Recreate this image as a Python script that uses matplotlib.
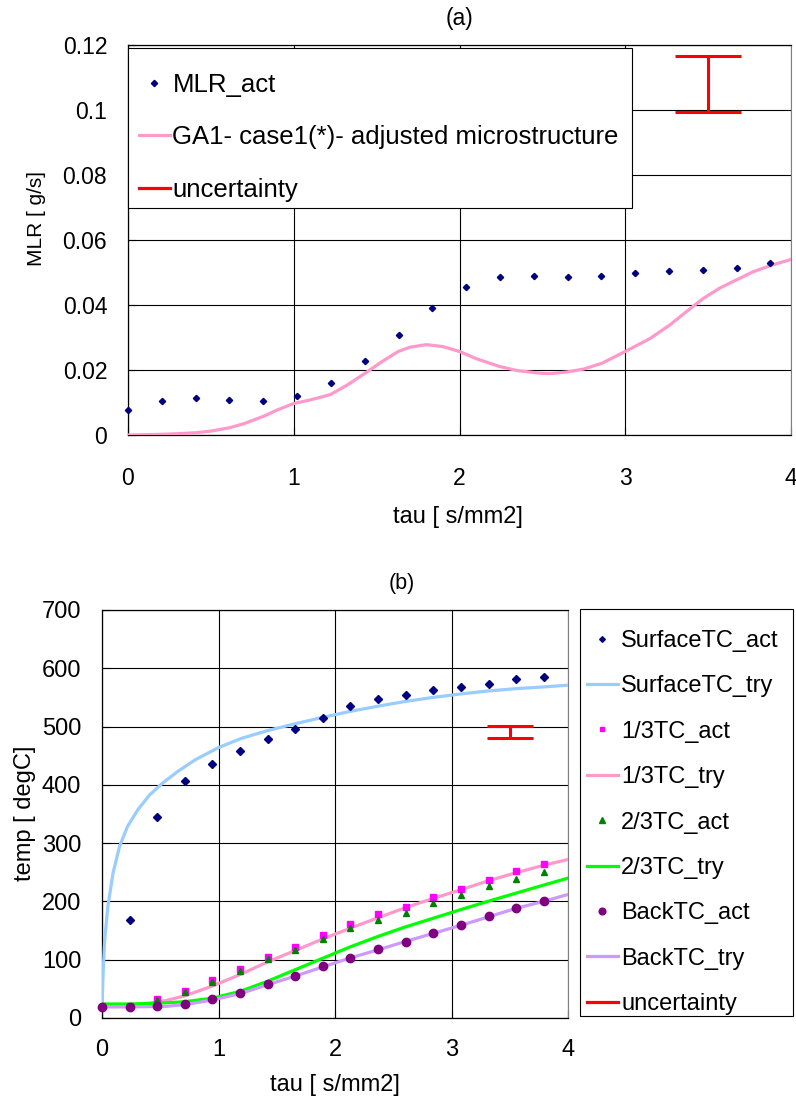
import matplotlib
matplotlib.use("Agg")
import matplotlib.pyplot as plt
from matplotlib.lines import Line2D
from matplotlib.patches import Rectangle

plt.rcParams["font.family"] = ["Liberation Sans", "DejaVu Sans"]

# --- (a) mass loss rate ---
mlr_tau = [0.0, 0.204, 0.408, 0.612, 0.816, 1.02, 1.224, 1.428, 1.632, 1.836,
           2.04, 2.244, 2.448, 2.652, 2.856, 3.06, 3.264, 3.468, 3.672, 3.876]
mlr_act = [0.0077, 0.0106, 0.0115, 0.0108, 0.0104, 0.0119, 0.0161, 0.0227, 0.0309, 0.0391,
           0.0454, 0.0485, 0.0489, 0.0485, 0.0489, 0.0499, 0.0506, 0.0508, 0.0514, 0.0528]

ga1_tau = [0.0, 0.2, 0.3, 0.41, 0.5, 0.61, 0.7, 0.82, 0.9, 1.0, 1.1, 1.22, 1.32, 1.43,
           1.53, 1.63, 1.7, 1.8, 1.9, 2.0, 2.1, 2.24, 2.35, 2.49, 2.55, 2.65, 2.75,
           2.86, 3.0, 3.15, 3.27, 3.37, 3.47, 3.57, 3.67, 3.77, 3.88, 4.0]
ga1_mlr = [0.0, 0.0002, 0.0004, 0.0007, 0.0012, 0.0022, 0.0035, 0.0058, 0.0077, 0.0097,
           0.0108, 0.0124, 0.0153, 0.019, 0.0225, 0.0257, 0.027, 0.0278, 0.0272, 0.0257,
           0.0235, 0.0211, 0.0198, 0.019, 0.0189, 0.0194, 0.0203, 0.0221, 0.0257, 0.0297,
           0.0339, 0.038, 0.042, 0.0452, 0.0477, 0.0502, 0.0522, 0.054]

unc_a_x = [3.5]
unc_a_y = [0.1081]
unc_a_err = [0.0086]

# --- (b) thermocouple temperatures ---
tc_tau = [0.0, 0.237, 0.474, 0.711, 0.948, 1.185, 1.422, 1.659, 1.896, 2.133,
          2.37, 2.607, 2.844, 3.081, 3.318, 3.555, 3.792]
surf_act = [None, 168.6, 345.7, 406.9, 436.0, 458.9, 478.9, 496.6, 514.9, 534.9,
            548.0, 554.9, 562.9, 568.0, 572.6, 581.7, 585.1]
third1_act = [20.0, 21.0, 32.6, 46.9, 64.6, 84.0, 104.6, 121.7, 142.3, 161.1,
              177.7, 190.9, 207.4, 221.7, 237.1, 252.6, 263.4]
third2_act = [20.0, 20.5, 31.4, 44.0, 62.3, 80.0, 101.0, 117.0, 136.0, 153.7,
              168.6, 181.0, 197.0, 211.0, 225.7, 238.9, 250.9]
back_act = [18.9, 18.9, 21.1, 24.0, 32.6, 42.9, 58.9, 72.6, 88.6, 103.4,
            118.3, 129.7, 145.7, 159.4, 174.3, 189.1, 201.1]

surf_try_tau = [0.0, 0.01, 0.023, 0.05, 0.095, 0.15, 0.22, 0.31, 0.41, 0.52, 0.65, 0.8,
                1.0, 1.2, 1.42, 1.66, 1.9, 2.13, 2.37, 2.6, 2.84, 3.08, 3.31,
                3.55, 3.79, 4.0]
surf_try = [20, 80, 134, 191, 249, 294, 329, 358, 383, 403, 423, 443,
            464, 480, 493, 505, 516, 526, 535, 543, 550, 556, 561,
            565, 568, 571]

try_tau = [0.0, 0.24, 0.4, 0.55, 0.71, 0.95, 1.19, 1.42, 1.66, 1.9, 2.13, 2.37,
           2.6, 2.84, 3.08, 3.31, 3.55, 3.79, 4.0]
third1_try = [22, 22, 25, 30, 38, 55, 75, 96, 116, 136, 154, 172,
              189, 205, 220, 235, 249, 262, 272]
third2_try = [24, 24, 25, 26, 28, 34, 46, 63, 83, 103, 122, 140,
              156, 171, 186, 200, 214, 228, 240]
back_try = [19, 19, 19.5, 20, 23, 31, 42, 57, 72, 88, 103, 117,
            131, 145, 159, 173, 188, 200, 212]

unc_b_x = [3.5]
unc_b_y = [490.5]
unc_b_err = [10.5]

RED = "#FF0000"
W, H = 796, 1105

fig = plt.figure(figsize=(W / 100, H / 100), dpi=100)


def style_axes(ax, fs, xpad, ypad):
    ax.grid(True, color="black", linewidth=0.8)
    ax.set_axisbelow(True)
    for side in ("left", "bottom", "top"):
        ax.spines[side].set_color("black")
        ax.spines[side].set_linewidth(0.9)
    ax.spines["right"].set_color("#808080")
    ax.tick_params(axis="both", direction="in", length=6, width=0.8, labelsize=fs)
    ax.tick_params(axis="x", pad=xpad)
    ax.tick_params(axis="y", pad=ypad)


def legend_box(x0, y0, x1, y1):
    # white framed box in pixel coordinates (y measured from the top)
    fig.add_artist(Rectangle((x0 / W, 1 - y1 / H), (x1 - x0) / W, (y1 - y0) / H,
                             transform=fig.transFigure, facecolor="white",
                             edgecolor="black", linewidth=0.8, zorder=3))


# ---------------- panel (a) ----------------
ax1 = fig.add_axes([128 / W, 1 - 435 / H, (791 - 128) / W, 390 / H])
p_act, = ax1.plot(mlr_tau, mlr_act, "D", color="#000080", markersize=3.2,
                  clip_on=False, zorder=4, label="MLR_act")
p_ga1, = ax1.plot(ga1_tau, ga1_mlr, color="#FF99CC", linewidth=2.3, zorder=3,
                  label="GA1- case1(*)- adjusted microstructure")
ax1.errorbar(unc_a_x, unc_a_y, yerr=unc_a_err, fmt="none", ecolor=RED,
             elinewidth=2.2, capsize=23.5, capthick=2.2, zorder=4)
ax1.set_xlim(0, 4)
ax1.set_ylim(0, 0.12)
ax1.set_xticks([0, 1, 2, 3, 4])
ax1.set_yticks([0, 0.02, 0.04, 0.06, 0.08, 0.1, 0.12])
ax1.set_yticklabels(["0", "0.02", "0.04", "0.06", "0.08", "0.1", "0.12"])
style_axes(ax1, 16.5, 23, 15)

legend_box(128, 48, 632, 208)
unc_handle = Line2D([], [], color=RED, linewidth=2.3, label="uncertainty")
leg1 = fig.legend(handles=[p_act, p_ga1, unc_handle], loc="upper left",
                  bbox_to_anchor=(139 / W, 1 - 73 / H), borderaxespad=0,
                  fontsize=18.5, numpoints=1, handlelength=1.2, handletextpad=0.1,
                  labelspacing=1.1, borderpad=0, frameon=False)
leg1.set_zorder(4)

fig.text(460 / W, 1 - 18 / H, "(a)", ha="center", va="center", fontsize=16.5)
fig.text(36 / W, 1 - 218 / H, "MLR [ g/s]", ha="center", va="center",
         rotation=90, fontsize=15)
fig.text(458 / W, 1 - 517 / H, "tau [ s/mm2]", ha="center", va="center", fontsize=17)

# ---------------- panel (b) ----------------
ax2 = fig.add_axes([102 / W, 1 - 1018 / H, (568 - 102) / W, 408 / H])
s_act, = ax2.plot(tc_tau[1:], surf_act[1:], "D", color="#000080", markersize=3.6,
                  zorder=5, label="SurfaceTC_act")
s_try, = ax2.plot(surf_try_tau, surf_try, color="#99CCFF", linewidth=2.3, zorder=3,
                  label="SurfaceTC_try")
t1_act, = ax2.plot(tc_tau, third1_act, "s", color="#FF00FF", markersize=4.0,
                   zorder=5, label="1/3TC_act")
t1_try, = ax2.plot(try_tau, third1_try, color="#FF99CC", linewidth=2.3, zorder=3,
                   label="1/3TC_try")
t2_act, = ax2.plot(tc_tau, third2_act, "^", color="#008000", markersize=5.0,
                   zorder=5, label="2/3TC_act")
t2_try, = ax2.plot(try_tau, third2_try, color="#00FF00", linewidth=2.3, zorder=3,
                   label="2/3TC_try")
b_act, = ax2.plot(tc_tau, back_act, "o", color="#800080", markersize=6.0,
                  zorder=5, clip_on=False, label="BackTC_act")
b_try, = ax2.plot(try_tau, back_try, color="#CC99FF", linewidth=2.3, zorder=3,
                  label="BackTC_try")
ax2.errorbar(unc_b_x, unc_b_y, yerr=unc_b_err, fmt="none", ecolor=RED,
             elinewidth=2.2, capsize=16.5, capthick=2.2, zorder=5)
ax2.set_xlim(0, 4)
ax2.set_ylim(0, 700)
ax2.set_xticks([0, 1, 2, 3, 4])
ax2.set_yticks(range(0, 701, 100))
style_axes(ax2, 17, 15, 15)

legend_box(580, 609, 793, 1016)
unc_handle_b = Line2D([], [], color=RED, linewidth=2.3, label="uncertainty")
leg2 = fig.legend(handles=[s_act, s_try, t1_act, t1_try, t2_act, t2_try,
                           b_act, b_try, unc_handle_b],
                  loc="upper left", bbox_to_anchor=(587 / W, 1 - 630 / H),
                  borderaxespad=0, fontsize=17, numpoints=1, markerscale=0.8,
                  handlelength=1.3, handletextpad=0.15, labelspacing=0.99,
                  borderpad=0, frameon=False)
leg2.set_zorder(4)

fig.text(402 / W, 1 - 583 / H, "(b)", ha="center", va="center", fontsize=15.5)
fig.text(25 / W, 1 - 813 / H, "temp [ degC]", ha="center", va="center",
         rotation=90, fontsize=17)
fig.text(335 / W, 1 - 1085 / H, "tau [ s/mm2]", ha="center", va="center", fontsize=17)

fig.savefig("out.png", dpi=100)
